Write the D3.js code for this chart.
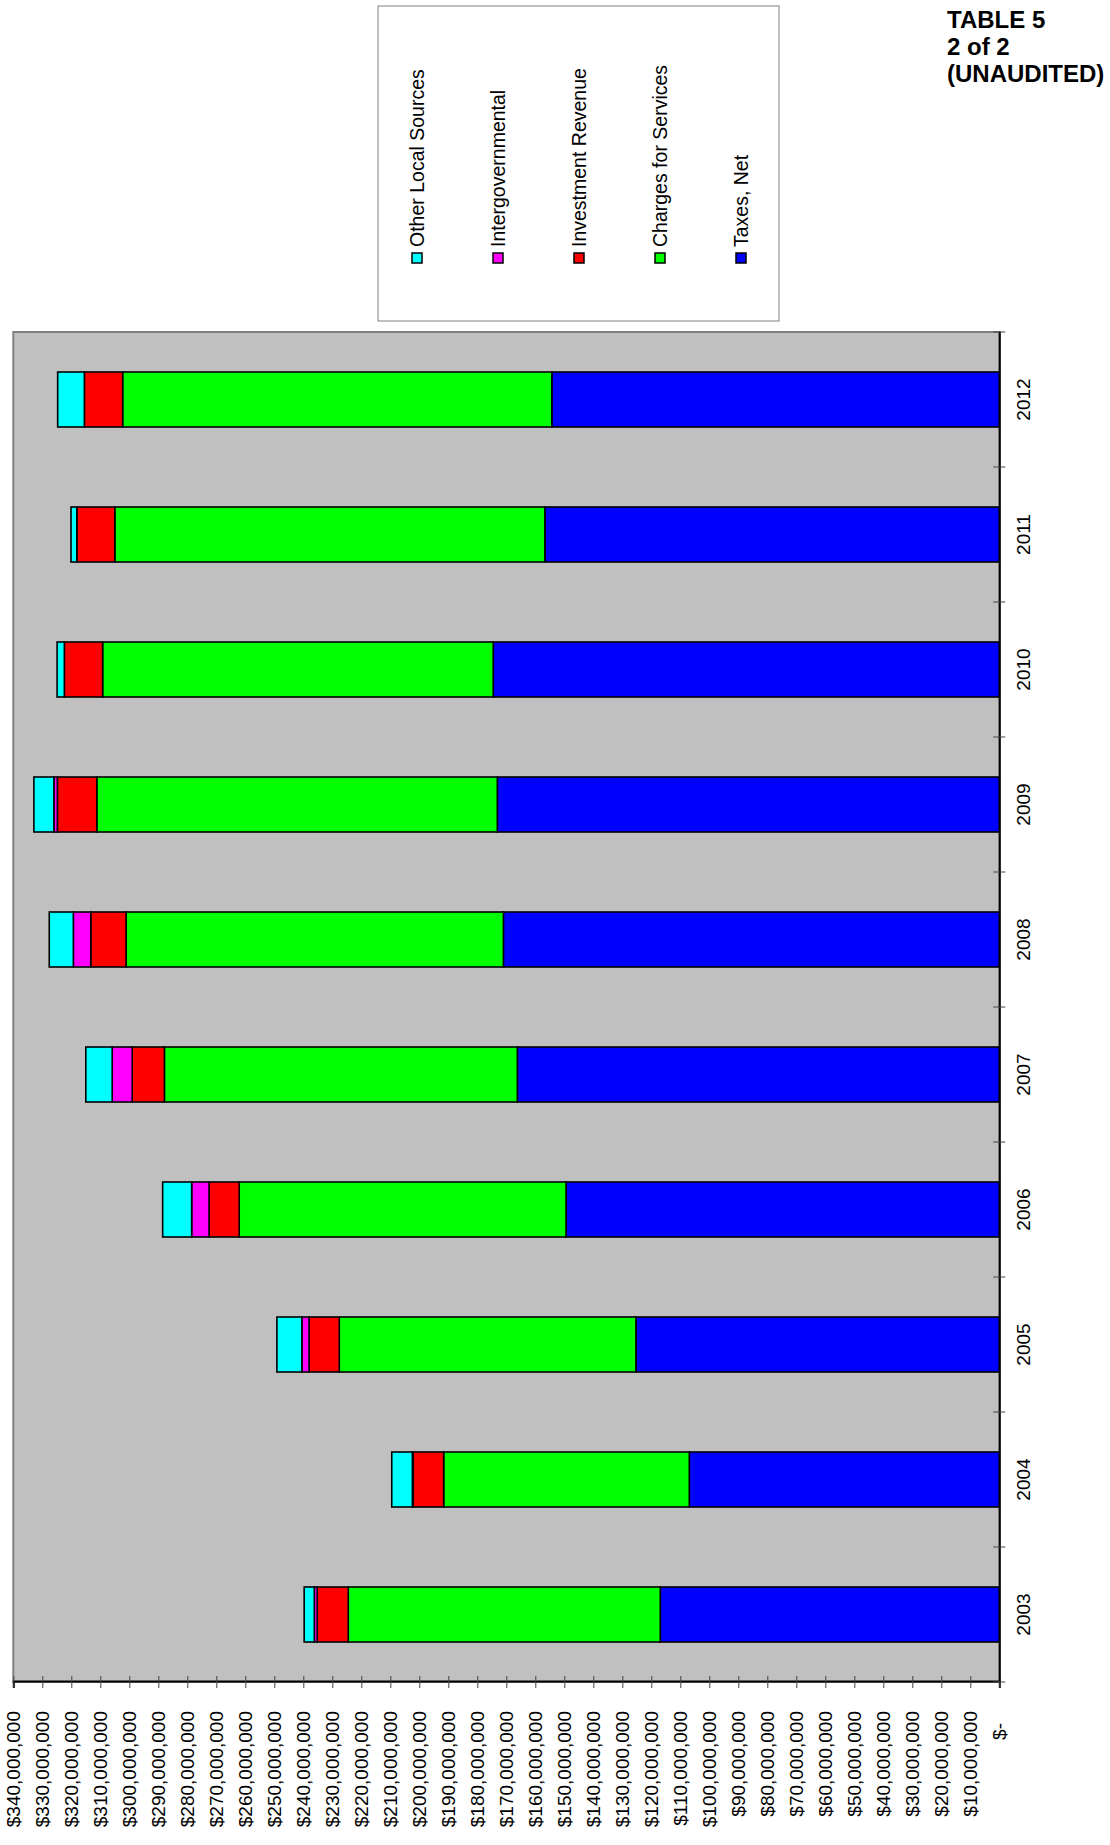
<!DOCTYPE html>
<html>
<head>
<meta charset="utf-8">
<script src="https://cdn.jsdelivr.net/npm/d3@7"></script>
<style>
body { margin: 0; background: #fff; }
text { font-family: "Liberation Sans", Arial, sans-serif; }
</style>
</head>
<body>
<script>
// chart data, millions of dollars
var years = ["2003", "2004", "2005", "2006", "2007", "2008", "2009", "2010", "2011", "2012"];
var taxesNet = [116.9, 106.9, 125.3, 149.4, 166.2, 171.0, 173.1, 174.5, 156.7, 154.3];
var chargesForServices = [107.6, 84.7, 102.3, 112.7, 121.7, 130.1, 138.1, 134.7, 148.3, 148.0];
var investmentRevenue = [10.7, 10.5, 10.4, 10.4, 11.1, 12.2, 13.6, 13.2, 13.1, 13.2];
var intergovernmental = [1.0, 0.3, 2.5, 6.0, 6.9, 6.0, 1.2, 0, 0, 0];
var otherLocalSources = [3.5, 7.1, 8.6, 10.0, 9.1, 8.3, 6.9, 2.5, 2.0, 9.2];

var seriesNames = ["Taxes, Net", "Charges for Services", "Investment Revenue", "Intergovernmental", "Other Local Sources"];
var seriesColors = ["#0000ff", "#00ff00", "#ff0000", "#ff00ff", "#00ffff"];
var tickValues = d3.range(0, 341, 10);
var titleLines = ["TABLE 5", "2 of 2", "(UNAUDITED)"];

// the chart is drawn as a column chart, then turned on its side
var W = 1845, H = 1110;
var plot = { left: 163, right: 1513, top: 13.3, bottom: 999.3 };

var table = years.map(function (yr, i) {
    var row = { year: yr };
    row[seriesNames[0]] = taxesNet[i];
    row[seriesNames[1]] = chargesForServices[i];
    row[seriesNames[2]] = investmentRevenue[i];
    row[seriesNames[3]] = intergovernmental[i];
    row[seriesNames[4]] = otherLocalSources[i];
    return row;
});

var svg = d3.select("body").append("svg")
    .attr("width", 1110)
    .attr("height", 1845);

var g = svg.append("g")
    .attr("transform", "translate(0," + W + ") rotate(-90)");

var x = d3.scaleBand().domain(years).range([plot.left, plot.right]);
var y = d3.scaleLinear().domain([0, 340]).range([plot.bottom, plot.top]);
var barW = 55;

// plot area
g.append("rect")
    .attr("x", plot.left)
    .attr("y", plot.top)
    .attr("width", plot.right - plot.left)
    .attr("height", plot.bottom - plot.top)
    .attr("fill", "#c0c0c0")
    .attr("stroke", "#808080")
    .attr("stroke-width", 2);

// stacked bars
var stack = d3.stack().keys(seriesNames)(table);

g.selectAll(".layer")
    .data(stack)
    .enter().append("g")
    .attr("class", "layer")
    .attr("fill", function (d, i) { return seriesColors[i]; })
    .selectAll("rect")
    .data(function (d) { return d.filter(function (s) { return s[1] - s[0] > 0; }); })
    .enter().append("rect")
    .attr("x", function (d) { return x(d.data.year) + (x.bandwidth() - barW) / 2; })
    .attr("width", barW)
    .attr("y", function (d) { return y(d[1]); })
    .attr("height", function (d) { return y(d[0]) - y(d[1]); })
    .attr("stroke", "#000")
    .attr("stroke-width", 1.6);

// value axis
var fmt = d3.format("$,");
var yAxis = g.append("g")
    .attr("transform", "translate(" + plot.left + ",0)")
    .call(d3.axisLeft(y)
        .tickValues(tickValues)
        .tickSize(6)
        .tickFormat(function (d) { return d === 0 ? "$-" : fmt(d * 1e6); }));

yAxis.select(".domain").attr("stroke", "#000").attr("stroke-width", 2);
yAxis.selectAll(".tick line").attr("x1", 6).attr("x2", -6).attr("stroke", "#444");
yAxis.selectAll(".tick text")
    .attr("x", function (d) { return d === 0 ? -41 : -29; })
    .attr("dy", "0.35em")
    .attr("fill", "#000")
    .style("font-size", "19px")
    .style("font-family", "'Liberation Sans', Arial, sans-serif");

// category axis
var xAxis = g.append("g")
    .attr("transform", "translate(0," + plot.bottom + ")")
    .call(d3.axisBottom(x).tickSize(0));

xAxis.select(".domain").attr("stroke", "#000").attr("stroke-width", 2);
xAxis.selectAll(".tick text")
    .attr("y", 24)
    .attr("dy", "0.35em")
    .attr("fill", "#000")
    .style("font-size", "19px")
    .style("font-family", "'Liberation Sans', Arial, sans-serif");

xAxis.selectAll(".sep")
    .data(d3.range(years.length + 1))
    .enter().append("line")
    .attr("class", "sep")
    .attr("x1", function (i) { return plot.left + i * x.step(); })
    .attr("x2", function (i) { return plot.left + i * x.step(); })
    .attr("y1", -6)
    .attr("y2", 6)
    .attr("stroke", "#444");

// legend
var legend = g.append("g");

legend.append("rect")
    .attr("x", 1524)
    .attr("y", 378)
    .attr("width", 315)
    .attr("height", 401)
    .attr("fill", "#fff")
    .attr("stroke", "#808080");

var legendOrder = seriesNames.slice().reverse();
var item = legend.selectAll(".item")
    .data(legendOrder)
    .enter().append("g")
    .attr("class", "item")
    .attr("transform", function (d, i) { return "translate(1587," + (417 + i * 81) + ")"; });

item.append("rect")
    .attr("x", -5)
    .attr("y", -5)
    .attr("width", 10)
    .attr("height", 10)
    .attr("fill", function (d) { return seriesColors[seriesNames.indexOf(d)]; })
    .attr("stroke", "#000")
    .attr("stroke-width", 1.5);

item.append("text")
    .attr("x", 11)
    .attr("dy", "0.35em")
    .style("font-size", "19.5px")
    .text(function (d) { return d; });

// title, not turned
svg.selectAll(".title")
    .data(titleLines)
    .enter().append("text")
    .attr("class", "title")
    .attr("x", 947)
    .attr("y", function (d, i) { return 28 + i * 27; })
    .style("font-size", "24px")
    .style("font-weight", "bold")
    .text(function (d) { return d; });
</script>
</body>
</html>
